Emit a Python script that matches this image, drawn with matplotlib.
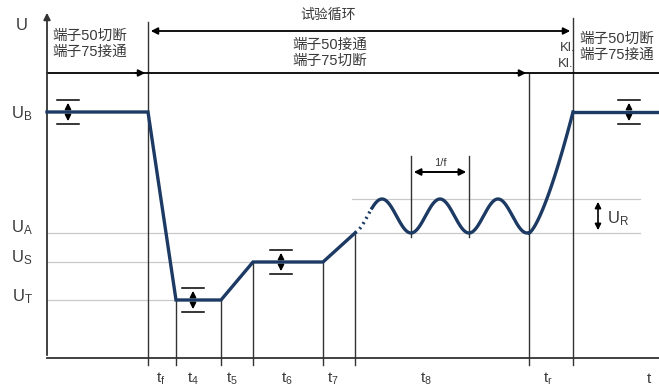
import numpy as np
import matplotlib
matplotlib.use("Agg")
import matplotlib.pyplot as plt

plt.rcParams['font.family'] = ['Liberation Sans', 'Noto Sans CJK SC', 'DejaVu Sans']
plt.rcParams['mathtext.fontset'] = 'custom'
plt.rcParams['mathtext.rm'] = 'Liberation Sans'
plt.rcParams['mathtext.it'] = 'Liberation Sans'

# voltage levels (height above time axis)
level_names = ['U$_\\mathrm{B}$', 'U$_\\mathrm{A}$', 'U$_\\mathrm{S}$', 'U$_\\mathrm{T}$']
level_values = [246, 125, 96, 58]
U_B, U_A, U_S, U_T = level_values
U_peak = 159          # top of ripple

# time break points of the test pulse
phase_times = [0, 101, 129, 174, 206, 276, 308, 482, 526, 612]
phase_volts = [U_B, U_B, U_T, U_T, U_S, U_S, U_A, U_A, U_B, U_B]
tick_labels = ['t$_\\mathrm{f}$', 't$_\\mathrm{4}$', 't$_\\mathrm{5}$', 't$_\\mathrm{6}$',
               't$_\\mathrm{7}$', 't$_\\mathrm{8}$', 't$_\\mathrm{r}$', 't']
tick_label_pos = [114, 146, 185, 240, 286, 379, 501, 602]

ripple_period = 58
ripple_trough = 364
ripple_dotted_end = 325

curve_c = '#1c3a63'
line_c = '#333333'
grid_c = '#c9c9c9'
text_c = '#3a3a3a'

fig = plt.figure(figsize=(6.59, 3.89), dpi=100)
ax = fig.add_axes([0, 0, 1, 1])
ax.set_xlim(-47, 612)
ax.set_ylim(-31, 358)
ax.axis('off')

T = phase_times
# axes
ax.annotate('', xy=(0, 348), xytext=(0, 0),
            arrowprops=dict(arrowstyle='-|>', color=line_c, lw=1.3, mutation_scale=10))
ax.plot([0, 612], [0, 0], color=line_c, lw=1.3)
ax.text(-25, 333, 'U', fontsize=12, color=text_c, ha='center', va='center')

# gray guide lines
ax.plot([0, 593], [U_A, U_A], color=grid_c, lw=0.9, zorder=1)
ax.plot([305, 593], [U_peak, U_peak], color=grid_c, lw=0.9, zorder=1)
ax.plot([0, T[4]], [U_S, U_S], color=grid_c, lw=0.9, zorder=1)
ax.plot([0, T[2]], [U_T, U_T], color=grid_c, lw=0.9, zorder=1)

# level labels
label_y = [244, 130, 100, 61]
for name, yy in zip(level_names, label_y):
    ax.text(-25, yy, name, fontsize=12, color=text_c, ha='center', va='center')

# vertical phase lines
v_tops = {T[1]: 336, T[2]: U_T, T[3]: U_T, T[4]: U_S, T[5]: U_S, T[6]: U_A,
          T[7]: 285, T[8]: 340}
for x, top in v_tops.items():
    ax.plot([x, x], [-7, top], color=line_c, lw=1.0, zorder=2)

# time labels
for lab, x in zip(tick_labels, tick_label_pos):
    ax.text(x, -21, lab, fontsize=11, color=text_c, ha='center', va='center')

# main curve pieces
ax.plot(T[:7], phase_volts[:7], color=curve_c, lw=2.4, solid_joinstyle='miter', zorder=4)
t_dot = np.linspace(T[6], ripple_dotted_end, 20)
t_wave = np.linspace(ripple_dotted_end, T[7], 300)
amp = (U_peak - U_A) / 2
u_dot = U_A + amp * (1 - np.cos(2 * np.pi * (t_dot - ripple_trough) / ripple_period))
u_wave = U_A + amp * (1 - np.cos(2 * np.pi * (t_wave - ripple_trough) / ripple_period))
ax.plot(t_dot, u_dot, color=curve_c, lw=2.4, ls=(0, (0.6, 1.2)), zorder=4)
ax.plot(t_wave, u_wave, color=curve_c, lw=2.4, zorder=4)
t_rise = np.linspace(T[7], T[8], 60)
s = (t_rise - T[7]) / (T[8] - T[7])
u_rise = U_A + (U_B - U_A) * s ** 1.4
ax.plot(t_rise, u_rise, color=curve_c, lw=2.4, zorder=4)
ax.plot(T[8:], phase_volts[8:], color=curve_c, lw=2.4, zorder=4)


def tol_arrow(x, yc, half=12, cap=11):
    ax.annotate('', xy=(x, yc + half), xytext=(x, yc),
                arrowprops=dict(arrowstyle='-|>', color='black', lw=1.2, mutation_scale=9))
    ax.annotate('', xy=(x, yc - half), xytext=(x, yc),
                arrowprops=dict(arrowstyle='-|>', color='black', lw=1.2, mutation_scale=9))
    ax.plot([x - cap, x + cap], [yc + half, yc + half], color='black', lw=1.1)
    ax.plot([x - cap, x + cap], [yc - half, yc - half], color='black', lw=1.1)


tol_arrow(21, U_B)
tol_arrow(146, U_T)
tol_arrow(234, U_S)
tol_arrow(582, U_B)

# U_R arrow
ax.annotate('', xy=(551, U_peak), xytext=(551, U_A),
            arrowprops=dict(arrowstyle='<|-|>', color='black', lw=1.2, mutation_scale=9))
ax.text(560, 139, 'U$_\\mathrm{R}$', fontsize=12, color=text_c, ha='left', va='center')

# 1/f period marker
for x in [ripple_trough, ripple_trough + ripple_period]:
    ax.plot([x, x], [121, 202], color=line_c, lw=1.0, zorder=2)
ax.annotate('', xy=(ripple_trough, 186), xytext=(ripple_trough + ripple_period, 186),
            arrowprops=dict(arrowstyle='<|-|>', color='black', lw=1.4, mutation_scale=10))
ax.text(ripple_trough + ripple_period / 2, 195, '1/f', fontsize=8, color=text_c,
        ha='center', va='center')

# top test cycle arrow
ax.annotate('', xy=(T[1], 327), xytext=(T[8], 327),
            arrowprops=dict(arrowstyle='<|-|>', color='black', lw=1.3, mutation_scale=10))
ax.text(281, 343, '试验循环', fontsize=10, color=text_c, ha='center', va='center')

# terminal state line
ax.plot([0, 612], [285, 285], color='black', lw=1.3)
for x in [T[1], T[7]]:
    ax.annotate('', xy=(x, 285), xytext=(x - 15, 285),
                arrowprops=dict(arrowstyle='-|>', color='black', lw=1.3, mutation_scale=10))

ax.text(5, 314, '端子50切断\n端子75接通', fontsize=10.5, color=text_c,
        ha='left', va='center', linespacing=1.15)
ax.text(283, 305, '端子50接通\n端子75切断', fontsize=10.5, color=text_c,
        ha='center', va='center', linespacing=1.15)
ax.text(528, 310, 'Kl.', fontsize=9.5, color=text_c, ha='right', va='center')
ax.text(526, 294, 'Kl.', fontsize=9.5, color=text_c, ha='right', va='center')
ax.text(532, 311, '端子50切断\n端子75接通', fontsize=10.5, color=text_c,
        ha='left', va='center', linespacing=1.15,
        bbox=dict(facecolor='white', edgecolor='none', pad=0.5))

fig.savefig('out.png', dpi=100, facecolor='white')
